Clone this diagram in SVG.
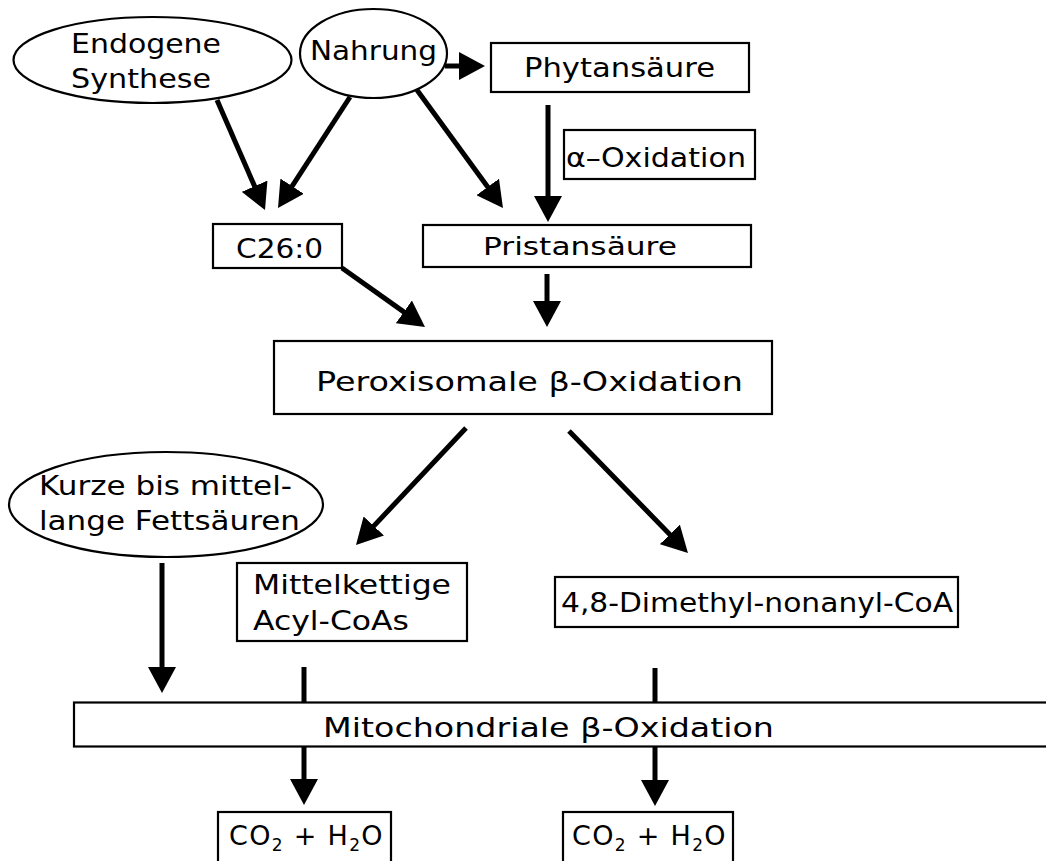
<svg xmlns="http://www.w3.org/2000/svg" width="1046" height="861" viewBox="0 0 1046 861">
<style>
.box{fill:#fff;stroke:#000;stroke-width:2.2}
.t{font-family:"DejaVu Sans","Liberation Sans",sans-serif;fill:#000;font-size:27px}
.c line{stroke:#000;stroke-width:5;fill:none}
.c .a{marker-end:url(#ah)}
</style>
<defs>
<marker id="ah" markerUnits="userSpaceOnUse" markerWidth="27" markerHeight="28" refX="6" refY="14" orient="auto" viewBox="0 0 27 28">
<path d="M0,0 L26,14 L0,28 z" fill="#000"/>
</marker>
</defs>
<rect width="1046" height="861" fill="#fff"/>
<g class="c" id="connectors">
<line class="a" x1="445" y1="66" x2="465" y2="66"/>
<line class="a" x1="548" y1="105" x2="548" y2="202"/>
<line class="a" x1="217" y1="100" x2="257" y2="191.7"/>
<line class="a" x1="350" y1="97" x2="288.9" y2="191.2"/>
<line class="a" x1="417" y1="90" x2="491.2" y2="191.8"/>
<line class="a" x1="342" y1="268" x2="408.7" y2="315.4"/>
<line class="a" x1="547" y1="274" x2="547" y2="307"/>
<line class="a" x1="466" y1="428" x2="369.7" y2="530.4"/>
<line class="a" x1="569" y1="431" x2="674" y2="538.7"/>
<line class="a" x1="162" y1="563" x2="162" y2="673"/>
<line x1="304" y1="667" x2="304" y2="703"/>
<line x1="655" y1="668" x2="655" y2="703"/>
<line class="a" x1="304" y1="746" x2="304" y2="785"/>
<line class="a" x1="655" y1="746" x2="655" y2="786"/>
</g>
<g id="endogene">
<ellipse class="box" cx="152.5" cy="60" rx="139" ry="43"/>
<text class="t" x="71" y="53" textLength="150" lengthAdjust="spacingAndGlyphs">Endogene</text>
<text class="t" x="71" y="88" textLength="140" lengthAdjust="spacingAndGlyphs">Synthese</text>
</g>
<g id="nahrung">
<ellipse class="box" cx="373.5" cy="53.5" rx="73.5" ry="44.5"/>
<text class="t" x="310" y="60" textLength="127" lengthAdjust="spacingAndGlyphs">Nahrung</text>
</g>
<g id="phytan">
<rect class="box" x="491" y="43" width="258" height="49"/>
<text class="t" x="524" y="77" style="font-size:26px" textLength="191" lengthAdjust="spacingAndGlyphs">Phytansäure</text>
</g>
<g id="alpha">
<rect class="box" x="564" y="130" width="191" height="49"/>
<text class="t" x="566" y="167" style="font-size:26px" textLength="180" lengthAdjust="spacingAndGlyphs">α–Oxidation</text>
</g>
<g id="pristan">
<rect class="box" x="423" y="225" width="328" height="42"/>
<text class="t" x="483" y="255" style="font-size:25px" textLength="194" lengthAdjust="spacingAndGlyphs">Pristansäure</text>
</g>
<g id="c26">
<rect class="box" x="213" y="224" width="129" height="44"/>
<text class="t" x="236" y="258" textLength="87" lengthAdjust="spacingAndGlyphs">C26:0</text>
</g>
<g id="perox">
<rect class="box" x="274" y="341" width="498" height="73"/>
<text class="t" x="316" y="391" textLength="427" lengthAdjust="spacingAndGlyphs">Peroxisomale β-Oxidation</text>
</g>
<g id="kurze">
<ellipse class="box" cx="166" cy="504.5" rx="157" ry="52.5"/>
<text class="t" x="39" y="495" style="font-size:26px" textLength="253" lengthAdjust="spacingAndGlyphs">Kurze bis mittel-</text>
<text class="t" x="39" y="530" style="font-size:26px" textLength="261" lengthAdjust="spacingAndGlyphs">lange Fettsäuren</text>
</g>
<g id="mittel">
<rect class="box" x="237" y="563" width="230" height="78"/>
<text class="t" x="253" y="594" textLength="198" lengthAdjust="spacingAndGlyphs">Mittelkettige</text>
<text class="t" x="253" y="630" textLength="156" lengthAdjust="spacingAndGlyphs">Acyl-CoAs</text>
</g>
<g id="dimethyl">
<rect class="box" x="555" y="577" width="403" height="50"/>
<text class="t" x="561" y="612" style="font-size:26px" textLength="392" lengthAdjust="spacingAndGlyphs">4,8-Dimethyl-nonanyl-CoA</text>
</g>
<g id="mito">
<rect class="box" x="74" y="702.5" width="990" height="44"/>
<text class="t" x="323" y="737" textLength="451" lengthAdjust="spacingAndGlyphs">Mitochondriale β-Oxidation</text>
</g>
<g id="co2a">
<rect class="box" x="218" y="812" width="173" height="55"/>
<text class="t" x="229" y="845" letter-spacing="1.3">CO<tspan font-size="17" dy="6">2</tspan><tspan dy="-6"> + H</tspan><tspan font-size="17" dy="6">2</tspan><tspan dy="-6">O</tspan></text>
</g>
<g id="co2b">
<rect class="box" x="563" y="812" width="170" height="55"/>
<text class="t" x="572" y="845" letter-spacing="1.3">CO<tspan font-size="17" dy="6">2</tspan><tspan dy="-6"> + H</tspan><tspan font-size="17" dy="6">2</tspan><tspan dy="-6">O</tspan></text>
</g>
</svg>
